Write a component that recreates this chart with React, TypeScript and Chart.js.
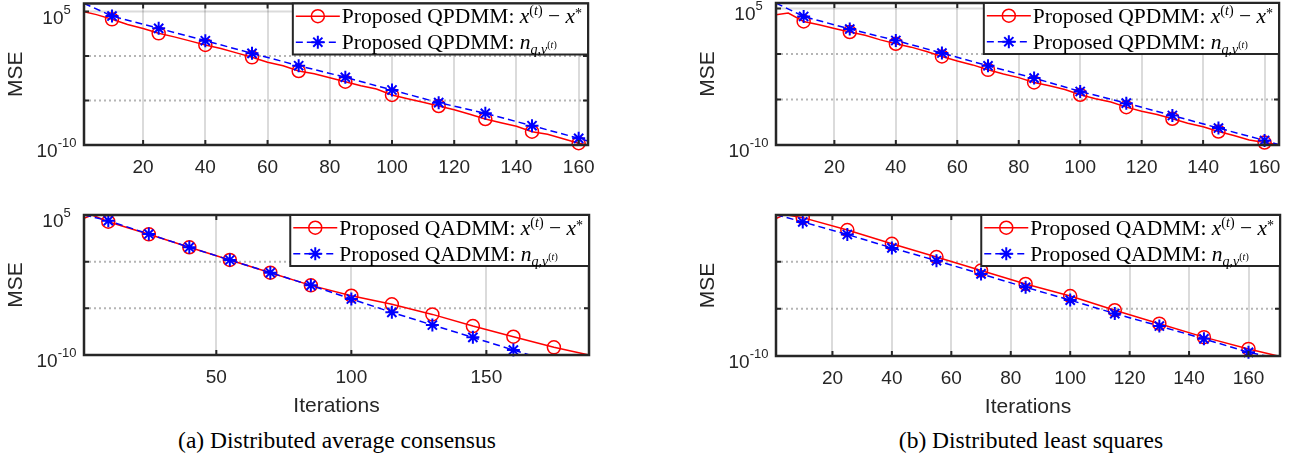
import React, { useEffect, useRef } from "react";
import { Chart, registerables } from "chart.js";

Chart.register(...registerables);

// ---------- data (MSE given as log10 values) ----------
const markerIters = [10, 25, 40, 55, 70, 85, 100, 115, 130, 145, 160, 175];
const ticksBy20 = [20, 40, 60, 80, 100, 120, 140, 160];
const ticksBy50 = [50, 100, 150];
const yLabelExps = [5, -10];
const yGridExps = [5, 0, -5];

// (a) distributed average consensus, QPDMM
const avgPdmmErrIter = [1, 5, 10, 15, 20, 25, 30, 35, 40, 45, 50, 55, 60, 65, 70, 75, 80, 85, 90, 95, 100, 105, 110, 115, 120, 125, 130, 135, 140, 145, 150, 155, 160, 163];
const avgPdmmErrLog = [4.98, 4.65, 4.12, 3.55, 3.1, 2.55, 2.15, 1.7, 1.24, 0.85, 0.35, -0.15, -0.7, -1.1, -1.69, -2.0, -2.45, -2.89, -3.35, -3.7, -4.38, -4.8, -5.2, -5.62, -6.05, -6.55, -7.08, -7.5, -7.9, -8.5, -8.8, -9.3, -9.8, -10.0];
const avgPdmmNoiseIter = [1, 10, 25, 40, 55, 70, 85, 100, 115, 130, 145, 160, 163];
const avgPdmmNoiseLog = [5.92, 4.49, 3.11, 1.72, 0.3, -1.09, -2.39, -3.82, -5.24, -6.44, -7.83, -9.25, -9.55];

// (a) distributed average consensus, QADMM
const avgAdmmErrIter = [1, 4, 10, 25, 40, 55, 70, 85, 100, 115, 130, 145, 160, 175, 188];
const avgAdmmErrLog = [4.64, 5.0, 4.28, 2.93, 1.54, 0.18, -1.18, -2.54, -3.65, -4.57, -5.65, -6.9, -8.04, -9.18, -10.0];
const avgAdmmNoiseIter = [1, 10, 25, 40, 55, 70, 85, 100, 115, 130, 145, 160, 166];
const avgAdmmNoiseLog = [5.0, 4.39, 2.96, 1.54, 0.18, -1.18, -2.54, -4.0, -5.43, -6.79, -8.11, -9.47, -10.0];

// (b) distributed least squares, QPDMM
const lsPdmmErrIter = [1, 5, 10, 15, 20, 25, 30, 35, 40, 45, 50, 55, 60, 65, 70, 75, 80, 85, 90, 95, 100, 105, 110, 115, 120, 125, 130, 135, 140, 145, 150, 155, 160, 165];
const lsPdmmErrLog = [4.31, 4.49, 3.57, 3.2, 2.8, 2.41, 2.05, 1.55, 1.12, 0.75, 0.28, -0.27, -0.78, -1.2, -1.74, -2.2, -2.6, -3.13, -3.5, -3.9, -4.48, -4.92, -5.28, -5.84, -6.3, -6.65, -7.12, -7.6, -8.0, -8.52, -8.95, -9.45, -9.73, -10.0];
const lsPdmmNoiseIter = [1, 10, 25, 40, 55, 70, 85, 100, 115, 130, 145, 160, 165];
const lsPdmmNoiseLog = [5.59, 4.12, 2.74, 1.48, 0.1, -1.3, -2.65, -4.12, -5.4, -6.76, -8.14, -9.5, -10.0];

// (b) distributed least squares, QADMM
const lsAdmmErrIter = [1, 4, 10, 25, 40, 55, 70, 85, 100, 115, 130, 145, 160, 170];
const lsAdmmErrLog = [4.57, 5.0, 4.68, 3.36, 1.9, 0.5, -0.93, -2.36, -3.64, -5.14, -6.57, -8.0, -9.25, -10.0];
const lsAdmmNoiseIter = [1, 10, 25, 40, 55, 70, 85, 100, 115, 130, 145, 160, 166];
const lsAdmmNoiseLog = [5.0, 4.22, 2.89, 1.47, 0.11, -1.29, -2.71, -4.07, -5.5, -6.82, -8.18, -9.61, -10.0];

const captions = [
  { text: "(a) Distributed average consensus", cx: 337 },
  { text: "(b) Distributed least squares", cx: 1031 },
];

// ---------- panel layout ----------
const SANS = '"Liberation Sans", Arial, Helvetica, sans-serif';
const SERIF = '"Liberation Serif", "Times New Roman", Times, serif';
const INK = "#262626";

type PanelCfg = {
  method: string;
  errIter: number[];
  errLog: number[];
  noiseIter: number[];
  noiseLog: number[];
  xMin: number;
  xMax: number;
  yMinExp: number;
  yMaxExp: number;
  xTicks: number[];
  xTitle: boolean;
  canvas: { left: number; top: number; width: number; height: number };
  plot: { left: number; right: number; top: number; bottom: number };
};

const panels: PanelCfg[] = [
  {
    method: "QPDMM", errIter: avgPdmmErrIter, errLog: avgPdmmErrLog, noiseIter: avgPdmmNoiseIter, noiseLog: avgPdmmNoiseLog,
    xMin: 1, xMax: 163, yMinExp: -10, yMaxExp: 5.9, xTicks: ticksBy20, xTitle: false,
    canvas: { left: 0, top: 0, width: 640, height: 200 },
    plot: { left: 84, right: 588, top: 3.5, bottom: 145 },
  },
  {
    method: "QADMM", errIter: avgAdmmErrIter, errLog: avgAdmmErrLog, noiseIter: avgAdmmNoiseIter, noiseLog: avgAdmmNoiseLog,
    xMin: 1, xMax: 188, yMinExp: -10, yMaxExp: 5, xTicks: ticksBy50, xTitle: true,
    canvas: { left: 0, top: 200, width: 640, height: 220 },
    plot: { left: 84, right: 589, top: 215, bottom: 355 },
  },
  {
    method: "QPDMM", errIter: lsPdmmErrIter, errLog: lsPdmmErrLog, noiseIter: lsPdmmNoiseIter, noiseLog: lsPdmmNoiseLog,
    xMin: 1, xMax: 164.7, yMinExp: -10, yMaxExp: 5.6, xTicks: ticksBy20, xTitle: false,
    canvas: { left: 660, top: 0, width: 632, height: 200 },
    plot: { left: 776, right: 1279, top: 3, bottom: 145 },
  },
  {
    method: "QADMM", errIter: lsAdmmErrIter, errLog: lsAdmmErrLog, noiseIter: lsAdmmNoiseIter, noiseLog: lsAdmmNoiseLog,
    xMin: 1, xMax: 170.6, yMinExp: -10, yMaxExp: 4.96, xTicks: ticksBy20, xTitle: true,
    canvas: { left: 660, top: 200, width: 632, height: 220 },
    plot: { left: 776, right: 1280, top: 215, bottom: 356 },
  },
];

type Seg = [string, string, number];

function drawSegs(ctx: CanvasRenderingContext2D, segs: Seg[], x: number, y: number) {
  let cx = x;
  for (const [t, f, dy] of segs) {
    ctx.font = f;
    ctx.fillText(t, cx, y + dy);
    cx += ctx.measureText(t).width;
  }
}
function segsWidth(ctx: CanvasRenderingContext2D, segs: Seg[]) {
  let w = 0;
  for (const [t, f] of segs) {
    ctx.font = f;
    w += ctx.measureText(t).width;
  }
  return w;
}

function drawAsterisk(ctx: CanvasRenderingContext2D, x: number, y: number, r: number) {
  ctx.beginPath();
  for (let k = 0; k < 4; k++) {
    const a = (k * Math.PI) / 4;
    ctx.moveTo(x - r * Math.cos(a), y - r * Math.sin(a));
    ctx.lineTo(x + r * Math.cos(a), y + r * Math.sin(a));
  }
  ctx.stroke();
}

function makeDecor(cfg: PanelCfg) {
  const inRange = (e: number) => e < cfg.yMaxExp - 1e-6 && e > cfg.yMinExp + 1e-6;
  return {
    id: "decor",
    beforeDatasetsDraw(chart: any) {
      const { ctx, chartArea, scales } = chart;
      const { left, right } = chartArea;
      ctx.save();
      for (const e of yGridExps) {
        if (!inRange(e)) continue;
        const py = scales.y.getPixelForValue(Math.pow(10, e));
        ctx.beginPath();
        if (e === 5) {
          ctx.setLineDash([]);
          ctx.strokeStyle = "rgba(0,0,0,0.14)";
        } else {
          ctx.setLineDash([2, 3]);
          ctx.strokeStyle = "#b5b5b5";
        }
        ctx.lineWidth = 2;
        ctx.moveTo(left, py);
        ctx.lineTo(right, py);
        ctx.stroke();
      }
      ctx.restore();
    },
    afterDatasetsDraw(chart: any) {
      const { ctx, chartArea, scales } = chart;
      const { left, right, top, bottom } = chartArea;
      ctx.save();
      ctx.setLineDash([]);
      // axes box
      ctx.strokeStyle = INK;
      ctx.lineWidth = 2.5;
      ctx.strokeRect(left, top, right - left, bottom - top);
      // inward tick marks
      ctx.lineWidth = 2;
      ctx.beginPath();
      for (const v of cfg.xTicks) {
        const px = scales.x.getPixelForValue(v);
        ctx.moveTo(px, bottom);
        ctx.lineTo(px, bottom - 5);
        ctx.moveTo(px, top);
        ctx.lineTo(px, top + 5);
      }
      for (const e of yGridExps) {
        if (!inRange(e)) continue;
        const py = scales.y.getPixelForValue(Math.pow(10, e));
        ctx.moveTo(left, py);
        ctx.lineTo(left + 5, py);
        ctx.moveTo(right, py);
        ctx.lineTo(right - 5, py);
      }
      ctx.stroke();

      // y tick labels 10^e
      ctx.fillStyle = INK;
      ctx.textAlign = "left";
      ctx.textBaseline = "alphabetic";
      for (const e of yLabelExps) {
        if (e > cfg.yMaxExp + 1e-9 || e < cfg.yMinExp - 1e-9) continue;
        const py = scales.y.getPixelForValue(Math.pow(10, e));
        const baseF = `19px ${SANS}`;
        const supF = `13px ${SANS}`;
        ctx.font = baseF;
        const wb = ctx.measureText("10").width;
        ctx.font = supF;
        const ws = ctx.measureText(String(e)).width;
        const sx = left - 27.5 - (wb + ws) / 2;
        ctx.font = baseF;
        ctx.fillText("10", sx, py + 12);
        ctx.font = supF;
        ctx.fillText(String(e), sx + wb, py + 2);
      }

      // y title
      ctx.save();
      ctx.translate(left - 68, (top + bottom) / 2);
      ctx.rotate(-Math.PI / 2);
      ctx.textAlign = "center";
      ctx.textBaseline = "middle";
      ctx.font = `21px ${SANS}`;
      ctx.fillText("MSE", 0, 0);
      ctx.restore();

      // x title
      if (cfg.xTitle) {
        ctx.textAlign = "center";
        ctx.textBaseline = "alphabetic";
        ctx.font = `21px ${SANS}`;
        ctx.fillText("Iterations", (left + right) / 2, bottom + 57);
      }

      // legend
      const mainF = `21.5px ${SERIF}`;
      const itF = `italic 21.5px ${SERIF}`;
      const supF = `14px ${SERIF}`;
      const supIt = `italic 14px ${SERIF}`;
      const tinyF = `10px ${SERIF}`;
      const tinyIt = `italic 10px ${SERIF}`;
      const row1: Seg[] = [
        [`Proposed ${cfg.method}: `, mainF, 0],
        ["x", itF, 0],
        ["(", supF, -8],
        ["t", supIt, -8],
        [")", supF, -8],
        [" \u2212 ", mainF, 0],
        ["x", itF, 0],
        ["*", supF, -5],
      ];
      const row2: Seg[] = [
        [`Proposed ${cfg.method}: `, mainF, 0],
        ["n", itF, 0],
        ["q,v", supIt, 5],
        ["(", tinyF, -1],
        ["t", tinyIt, -1],
        [")", tinyF, -1],
      ];
      const tw = Math.max(segsWidth(ctx, row1), segsWidth(ctx, row2));
      const lw = 49 + tw + 6;
      const lh = 51;
      const L = right - lw;
      const T = top;
      ctx.fillStyle = "#ffffff";
      ctx.fillRect(L, T, lw, lh);
      ctx.strokeStyle = INK;
      ctx.lineWidth = 2;
      ctx.strokeRect(L, T, lw, lh);
      const r1 = T + 12.7;
      const r2 = T + 38.7;
      // red sample
      ctx.strokeStyle = "#ff0000";
      ctx.lineWidth = 1.5;
      ctx.beginPath();
      ctx.moveTo(L + 3, r1);
      ctx.lineTo(L + 47, r1);
      ctx.stroke();
      ctx.beginPath();
      ctx.arc(L + 25, r1, 6.5, 0, Math.PI * 2);
      ctx.stroke();
      // blue sample
      ctx.strokeStyle = "#0000ff";
      ctx.setLineDash([7, 4]);
      ctx.beginPath();
      ctx.moveTo(L + 3, r2);
      ctx.lineTo(L + 47, r2);
      ctx.stroke();
      ctx.setLineDash([]);
      ctx.lineWidth = 2;
      drawAsterisk(ctx, L + 25, r2, 6.5);
      // texts
      ctx.fillStyle = "#000000";
      ctx.textAlign = "left";
      ctx.textBaseline = "alphabetic";
      drawSegs(ctx, row1, L + 49, r1 + 7);
      drawSegs(ctx, row2, L + 49, r2 + 7);
      ctx.restore();
    },
  };
}

function Panel({ cfg }: { cfg: PanelCfg }) {
  const ref = useRef<HTMLCanvasElement>(null);
  useEffect(() => {
    const canvas = ref.current;
    if (!canvas) return;
    const c = cfg.canvas;
    const p = cfg.plot;
    const markerRadius = (ctx: any) => (ctx.raw && markerIters.includes(ctx.raw.x) ? 6.5 : 0);
    const chart = new Chart(canvas, {
      type: "line",
      data: {
        datasets: [
          {
            label: `Proposed ${cfg.method}: n_q,v(t)`,
            data: cfg.noiseIter.map((x, i) => ({ x, y: Math.pow(10, cfg.noiseLog[i]) })),
            borderColor: "#0000ff",
            borderWidth: 1.5,
            borderDash: [7, 4],
            pointStyle: "star",
            pointRadius: markerRadius,
            pointBorderColor: "#0000ff",
            pointBackgroundColor: "#0000ff",
            pointBorderWidth: 2,
            fill: false,
            tension: 0,
            order: 0,
            clip: { left: 0, top: 0, right: 8, bottom: 8 },
          } as any,
          {
            label: `Proposed ${cfg.method}: x(t) - x*`,
            data: cfg.errIter.map((x, i) => ({ x, y: Math.pow(10, cfg.errLog[i]) })),
            borderColor: "#ff0000",
            borderWidth: 1.5,
            pointStyle: "circle",
            pointRadius: markerRadius,
            pointBorderColor: "#ff0000",
            pointBackgroundColor: "rgba(0,0,0,0)",
            pointBorderWidth: 1.5,
            fill: false,
            tension: 0,
            order: 1,
            clip: { left: 0, top: 0, right: 8, bottom: 8 },
          } as any,
        ],
      },
      options: {
        responsive: false,
        animation: false,
        events: [],
        layout: {
          padding: { left: 0, bottom: 0, top: p.top - c.top, right: c.left + c.width - p.right },
        },
        plugins: { legend: { display: false }, tooltip: { enabled: false } },
        scales: {
          x: {
            type: "linear",
            min: cfg.xMin,
            max: cfg.xMax,
            afterBuildTicks: (s: any) => {
              s.ticks = cfg.xTicks.map((v) => ({ value: v }));
            },
            afterFit: (s: any) => {
              s.height = c.top + c.height - p.bottom;
            },
            ticks: {
              font: { family: SANS, size: 19 },
              color: INK,
              padding: 11,
              maxRotation: 0,
              autoSkip: false,
            },
            grid: { color: "rgba(0,0,0,0.14)", lineWidth: 2, drawTicks: false },
            border: { display: false },
          },
          y: {
            type: "logarithmic",
            min: Math.pow(10, cfg.yMinExp),
            max: Math.pow(10, cfg.yMaxExp),
            afterFit: (s: any) => {
              s.width = p.left - c.left;
            },
            ticks: { display: false },
            grid: { display: false },
            border: { display: false },
          },
        },
      } as any,
      plugins: [makeDecor(cfg) as any],
    });
    return () => chart.destroy();
  }, [cfg]);
  return (
    <canvas
      ref={ref}
      width={cfg.canvas.width}
      height={cfg.canvas.height}
      style={{
        position: "absolute",
        left: cfg.canvas.left,
        top: cfg.canvas.top,
        width: cfg.canvas.width,
        height: cfg.canvas.height,
      }}
    />
  );
}

export default function App() {
  return (
    <div
      style={{
        position: "fixed",
        left: 0,
        top: 0,
        width: 1292,
        height: 459,
        background: "#ffffff",
        overflow: "hidden",
      }}
    >
      {panels.map((cfg, i) => (
        <Panel key={i} cfg={cfg} />
      ))}
      {captions.map((c, i) => (
        <div
          key={i}
          style={{
            position: "absolute",
            left: c.cx,
            top: 429,
            transform: "translateX(-50%)",
            whiteSpace: "nowrap",
            fontFamily: SERIF,
            fontSize: 23.5,
            lineHeight: "23.5px",
            color: "#000",
          }}
        >
          {c.text}
        </div>
      ))}
    </div>
  );
}
